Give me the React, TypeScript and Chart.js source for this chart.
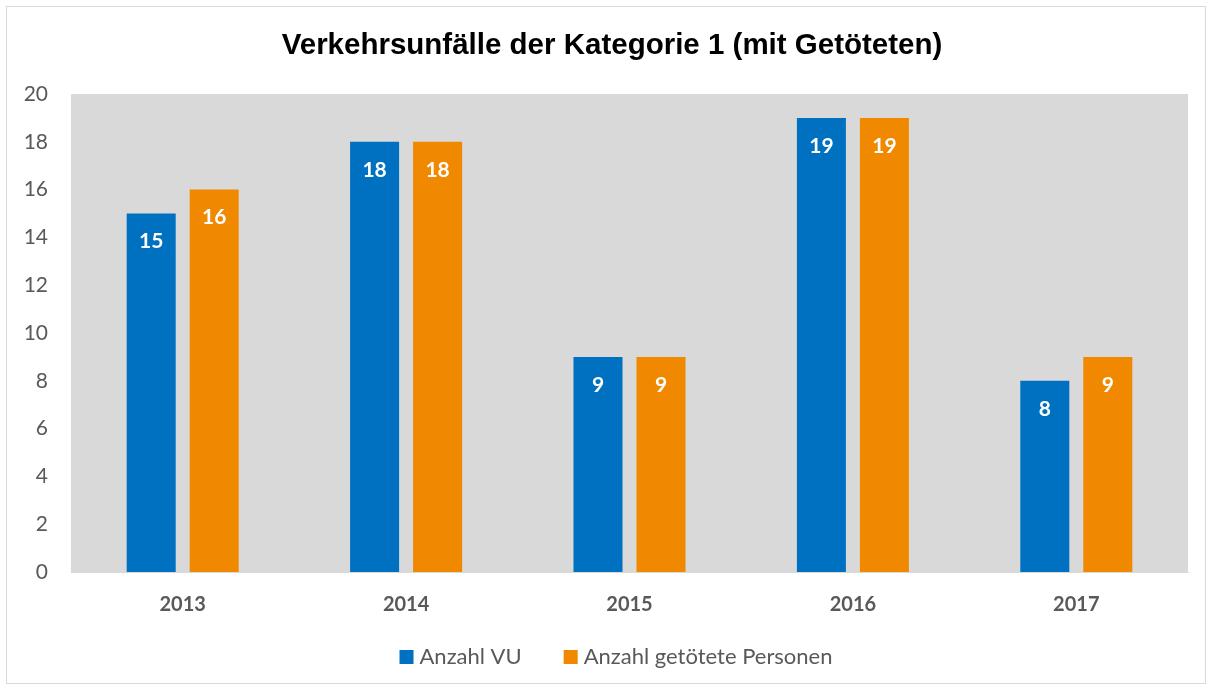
import React, { useEffect, useRef } from "react";
import { Chart, registerables } from "chart.js";

Chart.register(...registerables);

const TITLE = "Verkehrsunfälle der Kategorie 1 (mit Getöteten)";
const categories = ["2013", "2014", "2015", "2016", "2017"];
const seriesNames = ["Anzahl VU", "Anzahl getötete Personen"];
const anzahlVU = [15, 18, 9, 19, 8];
const anzahlGetoetete = [16, 18, 9, 19, 9];
const yTicks = [0, 2, 4, 6, 8, 10, 12, 14, 16, 18, 20];

const BLUE = "#0070c0";
const ORANGE = "#f08800";
const FONT = "Lato, 'Open Sans', sans-serif";

const bgPlugin = {
  id: "bgPlugin",
  beforeDraw(chart: any) {
    const { ctx, chartArea, width, height } = chart;
    ctx.save();
    ctx.fillStyle = "#ffffff";
    ctx.fillRect(0, 0, width, height);
    ctx.strokeStyle = "#d9d9d9";
    ctx.lineWidth = 1;
    ctx.strokeRect(6.5, 6.5, width - 13, height - 13);
    ctx.fillStyle = "#d9d9d9";
    ctx.fillRect(chartArea.left, chartArea.top, chartArea.right - chartArea.left, chartArea.bottom - chartArea.top);
    ctx.restore();
  },
};

const labelPlugin = {
  id: "labelPlugin",
  afterDatasetsDraw(chart: any) {
    const { ctx } = chart;
    ctx.save();
    ctx.fillStyle = "#ffffff";
    ctx.font = `bold 21px ${FONT}`;
    ctx.textAlign = "center";
    ctx.textBaseline = "middle";
    chart.data.datasets.forEach((ds: any, i: number) => {
      const meta = chart.getDatasetMeta(i);
      meta.data.forEach((bar: any, j: number) => {
        ctx.fillText(String(ds.data[j]), bar.x, bar.y + 28);
      });
    });
    ctx.restore();
  },
};

const titlePlugin = {
  id: "customTitle",
  afterDraw(chart: any) {
    const { ctx } = chart;
    ctx.save();
    ctx.font = `bold 29.5px Arial, 'Liberation Sans', sans-serif`;
    ctx.fillStyle = "#000000";
    ctx.textAlign = "center";
    ctx.textBaseline = "middle";
    ctx.fillText(TITLE, chart.width / 2 + 6, 46);
    ctx.restore();
  },
};

const legendPlugin = {
  id: "customLegend",
  afterDraw(chart: any) {
    const { ctx } = chart;
    const box = 14;
    const textGap = 6;
    const itemGap = 42;
    ctx.save();
    ctx.font = `22px ${FONT}`;
    ctx.textBaseline = "middle";
    ctx.textAlign = "left";
    const items = chart.data.datasets.map((ds: any) => ({
      label: ds.label,
      color: ds.backgroundColor,
      w: ctx.measureText(ds.label).width,
    }));
    let total = 0;
    items.forEach((it: any, i: number) => {
      total += box + textGap + it.w + (i < items.length - 1 ? itemGap : 0);
    });
    const cy = chart.chartArea.bottom + 85;
    let x = chart.width / 2 + 10 - total / 2;
    items.forEach((it: any) => {
      ctx.fillStyle = it.color;
      ctx.fillRect(x, cy - box / 2, box, box);
      x += box + textGap;
      ctx.fillStyle = "#595959";
      ctx.fillText(it.label, x, cy);
      x += it.w + itemGap;
    });
    ctx.restore();
  },
};

export default function App() {
  const ref = useRef<HTMLCanvasElement>(null);
  useEffect(() => {
    document.body.style.margin = "0";
    const chart = new Chart(ref.current!, {
      type: "bar",
      data: {
        labels: categories,
        datasets: [
          { label: seriesNames[0], data: anzahlVU, backgroundColor: BLUE, categoryPercentage: 0.564, barPercentage: 0.778 },
          { label: seriesNames[1], data: anzahlGetoetete, backgroundColor: ORANGE, categoryPercentage: 0.564, barPercentage: 0.778 },
        ],
      },
      options: {
        animation: false,
        responsive: false,
        layout: { padding: { left: 0, right: 24, top: 94, bottom: 53 } },
        plugins: {
          title: { display: false },
          legend: { display: false },
          tooltip: { enabled: false },
        },
        scales: {
          x: {
            grid: { display: false, drawTicks: false },
            border: { display: true, color: "#d9d9d9" },
            ticks: { color: "#595959", font: { family: FONT, size: 20, weight: "bold" }, padding: 21 },
            afterFit(scale: any) {
              scale.height = 65;
            },
          },
          y: {
            min: 0,
            max: 20,
            grid: { display: false, drawTicks: false },
            border: { display: false },
            afterBuildTicks(scale: any) {
              scale.ticks = yTicks.map((v) => ({ value: v }));
            },
            ticks: { color: "#595959", font: { family: FONT, size: 21 }, padding: 23 },
            afterFit(scale: any) {
              scale.width = 71;
            },
          },
        },
      },
      plugins: [bgPlugin, labelPlugin, titlePlugin, legendPlugin],
    });
    return () => chart.destroy();
  }, []);
  return (
    <div style={{ width: 1212, height: 690 }}>
      <canvas ref={ref} width={1212} height={690} style={{ display: "block" }} />
    </div>
  );
}
